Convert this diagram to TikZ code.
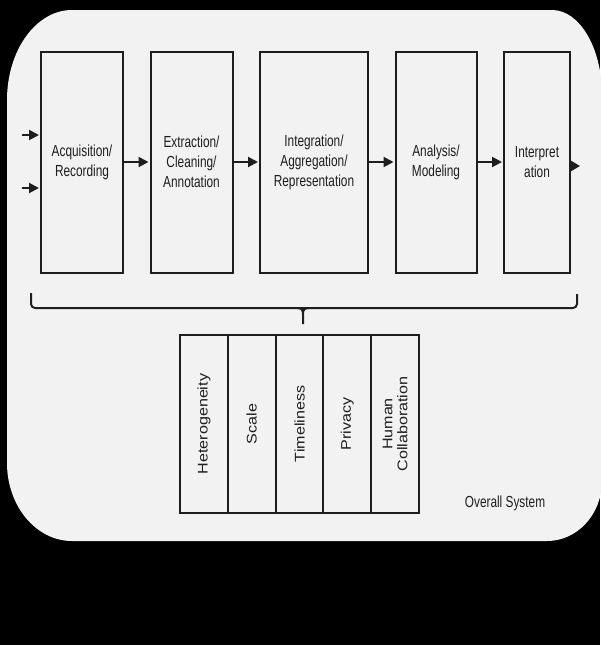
\documentclass[tikz,border=0pt]{standalone}
\usepackage{fontspec}
\setmainfont{Liberation Sans}[FakeStretch=0.74]
\newfontfamily\sidefont{Liberation Sans}[FakeStretch=1.15]
\usetikzlibrary{arrows.meta,positioning}
\definecolor{panel}{HTML}{F2F2F2}
\definecolor{ink}{HTML}{1E1E1E}

\begin{document}
\begin{tikzpicture}[x=1pt,y=-1pt,shorten >=1pt,node distance=25.5pt,
   >={Triangle[length=10pt,width=10pt]},
   stage/.style={draw=ink,line width=2pt,fill=panel,minimum height=221pt,inner sep=0pt,
      align=center,text=ink,font=\fontsize{16}{20}\selectfont},
   factor/.style={draw=ink,line width=2pt,fill=panel,minimum width=178pt,minimum height=47.8pt,
      inner sep=0pt,align=center,text=ink,rotate=90,font=\sidefont\fontsize{14}{15}\selectfont}]
   \useasboundingbox (0,0) rectangle (600,645);
   \fill[black] (0,0) rectangle (600,645);
   \fill[panel] (72,10) -- (552,10) .. controls (579.6,10) and (602,48.1) .. (602,95)
      -- (602,481) .. controls (602,514.1) and (577.4,541) .. (547,541)
      -- (72,541) .. controls (36.1,541) and (7,506) .. (7,463)
      -- (7,100) .. controls (7,50.3) and (36.1,10) .. (72,10) -- cycle;

   \node[stage,minimum width=82pt] (acq) at (82,162) {Acquisition/\\Recording};
   \node[stage,minimum width=82pt,right=of acq] (ext) {Extraction/\\Cleaning/\\Annotation};
   \node[stage,minimum width=108pt,right=of ext] (integ) {Integration/\\Aggregation/\\Representation};
   \node[stage,minimum width=81pt,right=of integ] (ana) {Analysis/\\Modeling};
   \node[stage,minimum width=66pt,right=of ana] (interp) {Interpret\\ation};

   \coordinate (in1) at (22,135);
   \coordinate (in2) at (22,188);
   \coordinate (out) at (580,166);
   \path[->,color=ink,line width=2pt]
    (acq) edge (ext)
    (ext) edge (integ)
    (integ) edge (ana)
    (ana) edge (interp)
    (in1) edge (in1 -| acq.west)
    (in2) edge (in2 -| acq.west);
   \draw[-{Triangle[length=9pt,width=10pt]},ink,line width=2pt,shorten >=0pt]
    ([xshift=-1pt]interp.east |- out) -- (out);

   % brace under the stages
   \coordinate (bl) at (31,293);
   \coordinate (br) at (577,293);
   \coordinate (tip) at (303,325);
   \draw[ink,line width=2pt,rounded corners=4pt] (bl) -- (31,308) -- (577,308) -- (br);
   \draw[ink,line width=2pt] (297,308) .. controls (302,308) and (303,310) .. (303,315) -- (tip);
   \draw[ink,line width=2pt] (309,308) .. controls (304,308) and (303,310) .. (303,315);

   \foreach \lab [count=\i] in {Heterogeneity,Scale,Timeliness,Privacy,{Human\\Collaboration}}
      \node[factor] (f\i) at ({180+47.8*(\i-0.5)},424) {\lab};

   \node[text=ink,font=\fontsize{16}{20}\selectfont] (sys) at (505,503) {Overall System};
\end{tikzpicture}
\end{document}
